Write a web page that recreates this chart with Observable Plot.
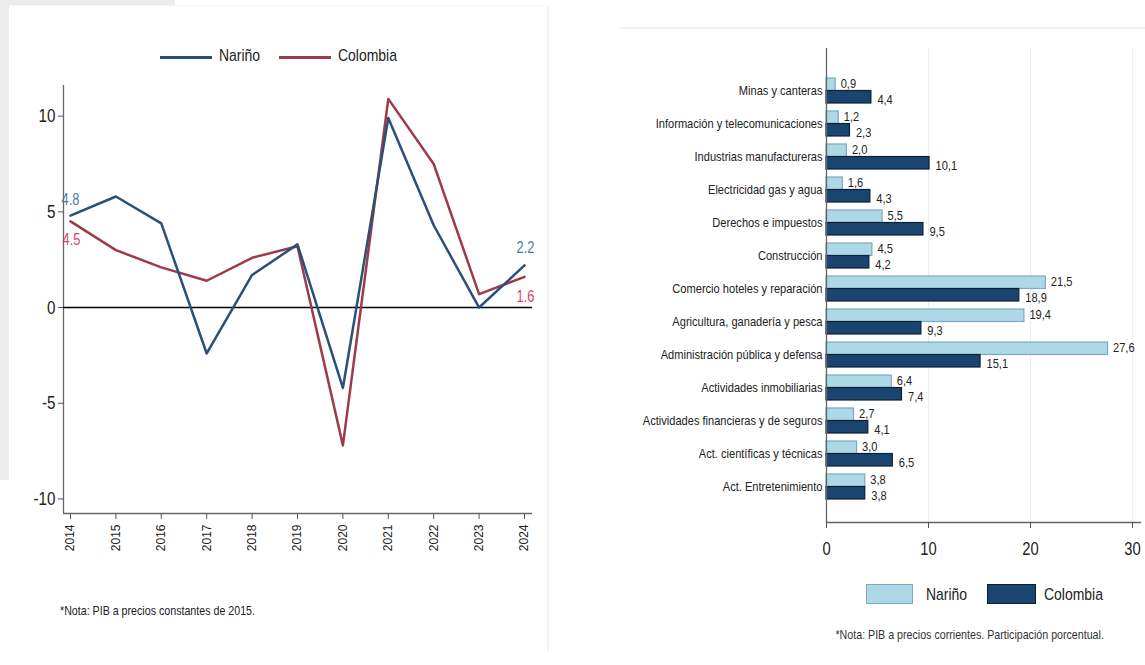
<!DOCTYPE html>
<html>
<head>
<meta charset="utf-8">
<script src="https://cdn.jsdelivr.net/npm/d3@7"></script>
<script src="https://cdn.jsdelivr.net/npm/@observablehq/plot@0.6"></script>
<style>
  html, body { margin: 0; padding: 0; background: #ffffff; }
  body { width: 1145px; height: 665px; position: relative; overflow: hidden;
         font-family: "Liberation Sans", Arial, sans-serif; color: #222; }
  .abs { position: absolute; }
  .n { display: inline-block; white-space: nowrap; transform: scaleX(0.82); transform-origin: left center; }
  #bgleft { left: 0; top: 0; width: 9px; height: 480px; background: #ececec; }
  #bgtop { left: 0; top: 0; width: 175px; height: 5px; background: #ececec; }
  #panelL { left: 9px; top: 5px; width: 538px; height: 645px; background: #fff; border-right: 2px solid #eef4f4; border-top: 1px solid #f2f6f6; }
  #panelR { left: 620px; top: 27px; width: 525px; height: 2px; background: #eef4f4; }
  .lline { height: 3px; width: 52px; top: 56px; }
  .ltxt { font-size: 17px; top: 46px; line-height: 20px; }
  .rsw { width: 47px; height: 20px; top: 584px; }
  .rtxt { font-size: 17px; top: 585px; line-height: 20px; }
  #noteL { left: 60px; top: 603px; font-size: 13px; line-height: 16px; }
  #noteR { left: 620px; width: 700px; top: 627px; font-size: 13px; line-height: 16px; text-align: center; color: #333; }
  #noteR .n { transform-origin: center center; }
</style>
</head>
<body>
<div id="bgleft" class="abs"></div>
<div id="bgtop" class="abs"></div>
<div id="panelL" class="abs"></div>
<div id="panelR" class="abs"></div>
<div id="chartL" class="abs" style="left:0;top:0"></div>
<div id="chartR" class="abs" style="left:600px;top:0"></div>

<div class="abs lline" style="left:160px;background:#2a5079"></div>
<div class="abs ltxt" style="left:219px"><span class="n">Nariño</span></div>
<div class="abs lline" style="left:279px;background:#9d3b48"></div>
<div class="abs ltxt" style="left:338px"><span class="n">Colombia</span></div>
<div id="noteL" class="abs"><span class="n">*Nota: PIB a precios constantes de 2015.</span></div>

<div class="abs rsw" style="left:866px;background:#add8e6;border:1.5px solid #7fa9be;box-sizing:border-box"></div>
<div class="abs rtxt" style="left:926px"><span class="n">Nariño</span></div>
<div class="abs rsw" style="left:987px;width:49px;background:#1a4570;border:1.5px solid #0c1f33;box-sizing:border-box"></div>
<div class="abs rtxt" style="left:1044px"><span class="n">Colombia</span></div>
<div id="noteR" class="abs" style="left:620px;width:700px"><span class="n">*Nota: PIB a precios corrientes. Participación porcentual.</span></div>

<script>
const FONT = '"Liberation Sans", Arial, sans-serif';

// ---------- Left chart data ----------
const years = [2014, 2015, 2016, 2017, 2018, 2019, 2020, 2021, 2022, 2023, 2024];
const narino = [4.8, 5.8, 4.4, -2.4, 1.7, 3.3, -4.2, 9.9, 4.3, 0.0, 2.2];
const colombia = [4.5, 3.0, 2.1, 1.4, 2.6, 3.2, -7.2, 10.9, 7.5, 0.7, 1.6];
const yTicksL = [-10, -5, 0, 5, 10];

// ---------- Right chart data ----------
const sectors = [
  "Minas y canteras",
  "Información y telecomunicaciones",
  "Industrias manufactureras",
  "Electricidad gas y agua",
  "Derechos e impuestos",
  "Construcción",
  "Comercio hoteles y reparación",
  "Agricultura, ganadería y pesca",
  "Administración pública y defensa",
  "Actividades inmobiliarias",
  "Actividades financieras y de seguros",
  "Act. científicas y técnicas",
  "Act. Entretenimiento"
];
const sharesNarino = [0.9, 1.2, 2.0, 1.6, 5.5, 4.5, 21.5, 19.4, 27.6, 6.4, 2.7, 3.0, 3.8];
const sharesColombia = [4.4, 2.3, 10.1, 4.3, 9.5, 4.2, 18.9, 9.3, 15.1, 7.4, 4.1, 6.5, 3.8];
const xTicksR = [0, 10, 20, 30];

const C_NAR = "#2a5079", C_COL = "#9d3b48";
const C_NAR_LBL = "#4d7aa8", C_COL_LBL = "#d8436d";

const serN = years.map((y, i) => ({year: y, value: narino[i]}));
const serC = years.map((y, i) => ({year: y, value: colombia[i]}));
const firstN = [serN[0]], lastN = [serN[serN.length - 1]];
const firstC = [serC[0]], lastC = [serC[serC.length - 1]];

const yMinL = -10.76, yMaxL = 11.6;
const baseStyle = {fontFamily: FONT, background: "transparent", overflow: "visible"};

// compress SVG text horizontally to mimic a narrow typeface
function condense(svg, factor, skip) {
  svg.querySelectorAll("text").forEach(t => {
    if (skip && t.closest(skip)) return;
    const spans = t.querySelectorAll("tspan");
    const targets = spans.length ? Array.from(spans) : [t];
    targets.forEach(el => {
      const L = el.getComputedTextLength();
      if (L > 0) {
        el.setAttribute("textLength", (L * factor).toFixed(2));
        el.setAttribute("lengthAdjust", "spacingAndGlyphs");
      }
    });
  });
}

const chartL = Plot.plot({
  width: 548, height: 570,
  marginLeft: 63, marginRight: 16, marginTop: 85, marginBottom: 57,
  style: baseStyle,
  x: {domain: [2014, 2024], insetLeft: 7, insetRight: 8, label: null},
  y: {domain: [yMinL, yMaxL], label: null},
  marks: [
    Plot.ruleX([2014], {dx: -7, stroke: "#666", strokeWidth: 1.3}),
    Plot.ruleY([yMinL], {stroke: "#666", strokeWidth: 1.5}),
    Plot.ruleY([0], {stroke: "#000", strokeWidth: 1.5}),
    Plot.axisY({ticks: yTicksL, tickFormat: d => String(d), tickSize: 5, tickPadding: 3, fontSize: 19, stroke: "#555", color: "#222", label: null}),
    Plot.axisX({ticks: years, tickFormat: d => String(d), tickRotate: -90, tickSize: 6, tickPadding: 5, fontSize: 12, stroke: "#555", color: "#222", label: null, style: {letterSpacing: "2.2px"}}),
    Plot.line(serC, {x: "year", y: "value", stroke: C_COL, strokeWidth: 2.5}),
    Plot.line(serN, {x: "year", y: "value", stroke: C_NAR, strokeWidth: 2.5}),
    Plot.text(firstN, {x: "year", y: "value", text: d => d.value.toFixed(1), fill: C_NAR_LBL, dy: -16, fontSize: 16}),
    Plot.text(firstC, {x: "year", y: "value", text: d => d.value.toFixed(1), fill: C_COL_LBL, dy: 18, dx: 1, fontSize: 16}),
    Plot.text(lastN, {x: "year", y: "value", text: d => d.value.toFixed(1), fill: C_NAR_LBL, dy: -18, dx: 1, fontSize: 16}),
    Plot.text(lastC, {x: "year", y: "value", text: d => d.value.toFixed(1), fill: C_COL_LBL, dy: 20, dx: 1, fontSize: 16})
  ]
});
document.getElementById("chartL").appendChild(chartL);
condense(chartL, 0.8, 'g[aria-label="x-axis tick label"]');

// ---------- Right chart ----------
const fmt = v => v.toFixed(1).replace(".", ",");
const barsN = sectors.map((s, i) => ({sector: s, value: sharesNarino[i]}));
const barsC = sectors.map((s, i) => ({sector: s, value: sharesColombia[i]}));

const chartR = Plot.plot({
  width: 545, height: 565,
  marginLeft: 226, marginRight: 5, marginTop: 48, marginBottom: 43,
  style: baseStyle,
  x: {domain: [0, 30.78], label: null},
  y: {domain: sectors, paddingInner: 0.254, paddingOuter: 0.7015, align: 0.564, label: null},
  marks: [
    Plot.ruleX(xTicksR.slice(1), {stroke: "#e6eff3", strokeWidth: 1.2}),
    Plot.barX(barsN, {y: "sector", x: "value", fill: "#add8e6", stroke: "#7fa9be", strokeWidth: 1.2, insetBottom: 12.5}),
    Plot.barX(barsC, {y: "sector", x: "value", fill: "#1a4570", stroke: "#0c1f33", strokeWidth: 1.2, insetTop: 12.5}),
    Plot.text(barsN, {y: "sector", x: "value", text: d => fmt(d.value), textAnchor: "start", dx: 5, dy: -7, fontSize: 13.5, fill: "#222"}),
    Plot.text(barsC, {y: "sector", x: "value", text: d => fmt(d.value), textAnchor: "start", dx: 6, dy: 8.5, fontSize: 13.5, fill: "#222"}),
    Plot.ruleX([0], {stroke: "#666", strokeWidth: 1.3}),
    Plot.frame({anchor: "bottom", stroke: "#666", strokeWidth: 1.3}),
    Plot.axisY({tickSize: 0, tickPadding: 4, fontSize: 13.5, color: "#222", label: null}),
    Plot.axisX({ticks: xTicksR, tickSize: 6, tickPadding: 14, fontSize: 18, stroke: "#555", color: "#222", label: null})
  ]
});
document.getElementById("chartR").appendChild(chartR);
condense(chartR, 0.82);
</script>
</body>
</html>
